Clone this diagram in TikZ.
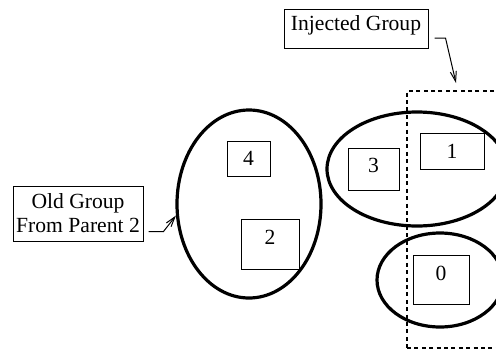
\documentclass[tikz,border=0pt]{standalone}
\usepackage{fontspec}
\setmainfont{Liberation Serif}
\usetikzlibrary{calc, arrows.meta, shapes.geometric}
\tikzset{>={Straight Barb[length=5pt, width=3pt]},
  member/.style={draw, line width=0.5pt, inner sep=0pt},
  label box/.style={draw, line width=0.5pt, inner sep=1pt, align=center},
  group/.style={draw, ellipse, line width=1.6pt, inner sep=0pt},
  injected/.style={draw, line width=1pt, dash pattern=on 2pt off 1.7pt, inner sep=0pt, anchor=north west},
  pointer/.style={->, line width=0.5pt}}

\begin{document}
\begin{tikzpicture}[x=0.5pt, y=-0.5pt, font=\fontsize{10.8}{12}\selectfont]
\useasboundingbox (0,0) rectangle (496,348);
\clip (0,0) rectangle (496,348);
\node[injected, minimum width=100pt, minimum height=128.5pt] (inj) at (406,90) {};
\node[group, minimum width=72pt, minimum height=94pt] (old) at (249,204) {};
\node[group, minimum width=90pt, minimum height=57pt] (grpA) at (417,169) {};
\node[group, minimum width=63pt, minimum height=47pt] (grpB) at (440,280) {};
\node[member, minimum width=21.5pt, minimum height=17.5pt] (n4) at (248.5,158.5) {4};
\node[member, minimum width=29pt, minimum height=25pt, text depth=6.5pt] (n2) at (270,244) {2};
\node[member, minimum width=25.5pt, minimum height=21pt, text depth=4pt] (n3) at (373.5,169) {3};
\node[member, minimum width=32pt, minimum height=18pt] (n1) at (452,151) {1};
\node[member, minimum width=28pt, minimum height=24.5pt, text depth=6pt] (n0) at (441,279.5) {0};
\node[label box, minimum width=72pt, minimum height=19.5pt, text depth=5.3pt] (injlbl) at (356,28.5) {Injected Group};
\node[label box, minimum width=65pt, minimum height=27.5pt] (oldlbl) at (78,213.5) {Old Group\\From Parent 2};
\coordinate (injtip) at (456,83);
\draw[pointer] ($(injlbl.east)+(6,9.5)$) -- ++(11,0) -- (injtip);
\draw[pointer] ($(oldlbl.south east)+(5,-10)$) -- ++(15,0) -- (old.189);
\end{tikzpicture}
\end{document}
